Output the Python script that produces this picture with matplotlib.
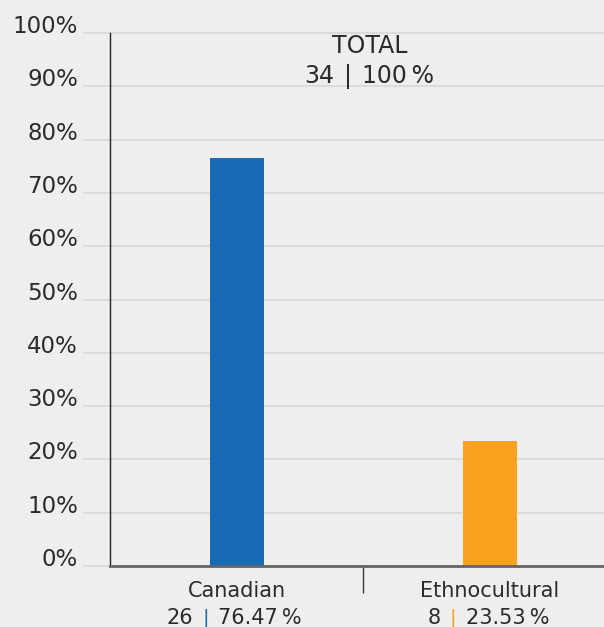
import matplotlib
matplotlib.use("Agg")
import matplotlib.pyplot as plt
from matplotlib.transforms import blended_transform_factory

categories = ["Canadian", "Ethnocultural"]
counts = [26, 8]
percents = [76.47, 23.53]
total_count = 34
total_percent = 100
bar_colors = ["#176bb6", "#f8a21f"]
y_ticks = [0, 10, 20, 30, 40, 50, 60, 70, 80, 90, 100]

W, H = 604, 627
bg = "#eeeeee"
grid_c = "#d8d8d8"
text_c = "#2b2b2b"
plt.rcParams["font.family"] = ["DejaVu Sans"]

fig = plt.figure(figsize=(W / 100, H / 100), dpi=100, facecolor=bg)
ax = fig.add_axes([110 / W, 1 - 566 / H, 494 / W, 533 / H], facecolor=bg)

x = [0.5, 1.5]
ax.bar(x, percents, width=54 / 253, color=bar_colors, zorder=3)

ax.set_xlim(0, 494 / 253)
ax.set_ylim(0, 100)

for s in ["top", "right"]:
    ax.spines[s].set_visible(False)
ax.spines["left"].set_color("#222222")
ax.spines["left"].set_linewidth(1.0)
ax.spines["bottom"].set_color("#666666")
ax.spines["bottom"].set_linewidth(2.0)
ax.spines["bottom"].set_zorder(4)

ax.set_yticks(y_ticks)
ax.yaxis.grid(True, color=grid_c, linewidth=1.2, zorder=0)
for gl in ax.get_ygridlines():
    gl.set_clip_on(False)
ax.set_axisbelow(True)
ax.tick_params(axis="y", length=27 * 0.72, color=grid_c, width=1.2, labelleft=False)

ax.set_xticks(x)
ax.tick_params(axis="x", which="major", length=0, labelbottom=False)
ax.set_xticks([1.0], minor=True)
ax.tick_params(axis="x", which="minor", length=27 * 0.72, color="#333333", width=1.0)

# y tick labels sit just above their gridlines
ytr = blended_transform_factory(fig.transFigure, ax.transData)
for v in y_ticks:
    fig.text(78 / W, v, f"{v}%", transform=ytr, ha="right", va="baseline",
             fontsize=16.5, color=text_c)


def fy(py):
    return 1 - py / H


xtr = blended_transform_factory(ax.transData, fig.transFigure)
fs = 15
sep_px = [206, 453]
for xi, cat, n, p, c, bx in zip(x, categories, counts, percents, bar_colors, sep_px):
    fig.text(xi, fy(597), cat, transform=xtr, ha="center", va="baseline",
             fontsize=fs, color=text_c)
    fig.text((bx - 12.5) / W, fy(624), f"{n}", ha="right", va="baseline",
             fontsize=fs, color=text_c)
    fig.text(bx / W, fy(623), "|", ha="center", va="baseline",
             fontsize=fs - 1, color=c)
    fig.text((bx + 12.5) / W, fy(624), f"{p:.2f}\u2009%", ha="left", va="baseline",
             fontsize=fs, color=text_c)

fs_total = 17
fig.text(370 / W, fy(53), "TOTAL", ha="center", va="baseline",
         fontsize=fs_total, color=text_c)
tb = 348
fig.text((tb - 14) / W, fy(83), f"{total_count}", ha="right", va="baseline",
         fontsize=fs_total, color=text_c)
fig.text(tb / W, fy(83), "|", ha="center", va="baseline",
         fontsize=fs_total, color=text_c)
fig.text((tb + 14) / W, fy(83), f"{total_percent}\u2009%", ha="left", va="baseline",
         fontsize=fs_total, color=text_c)

fig.savefig("out.png", dpi=100, facecolor=bg)
